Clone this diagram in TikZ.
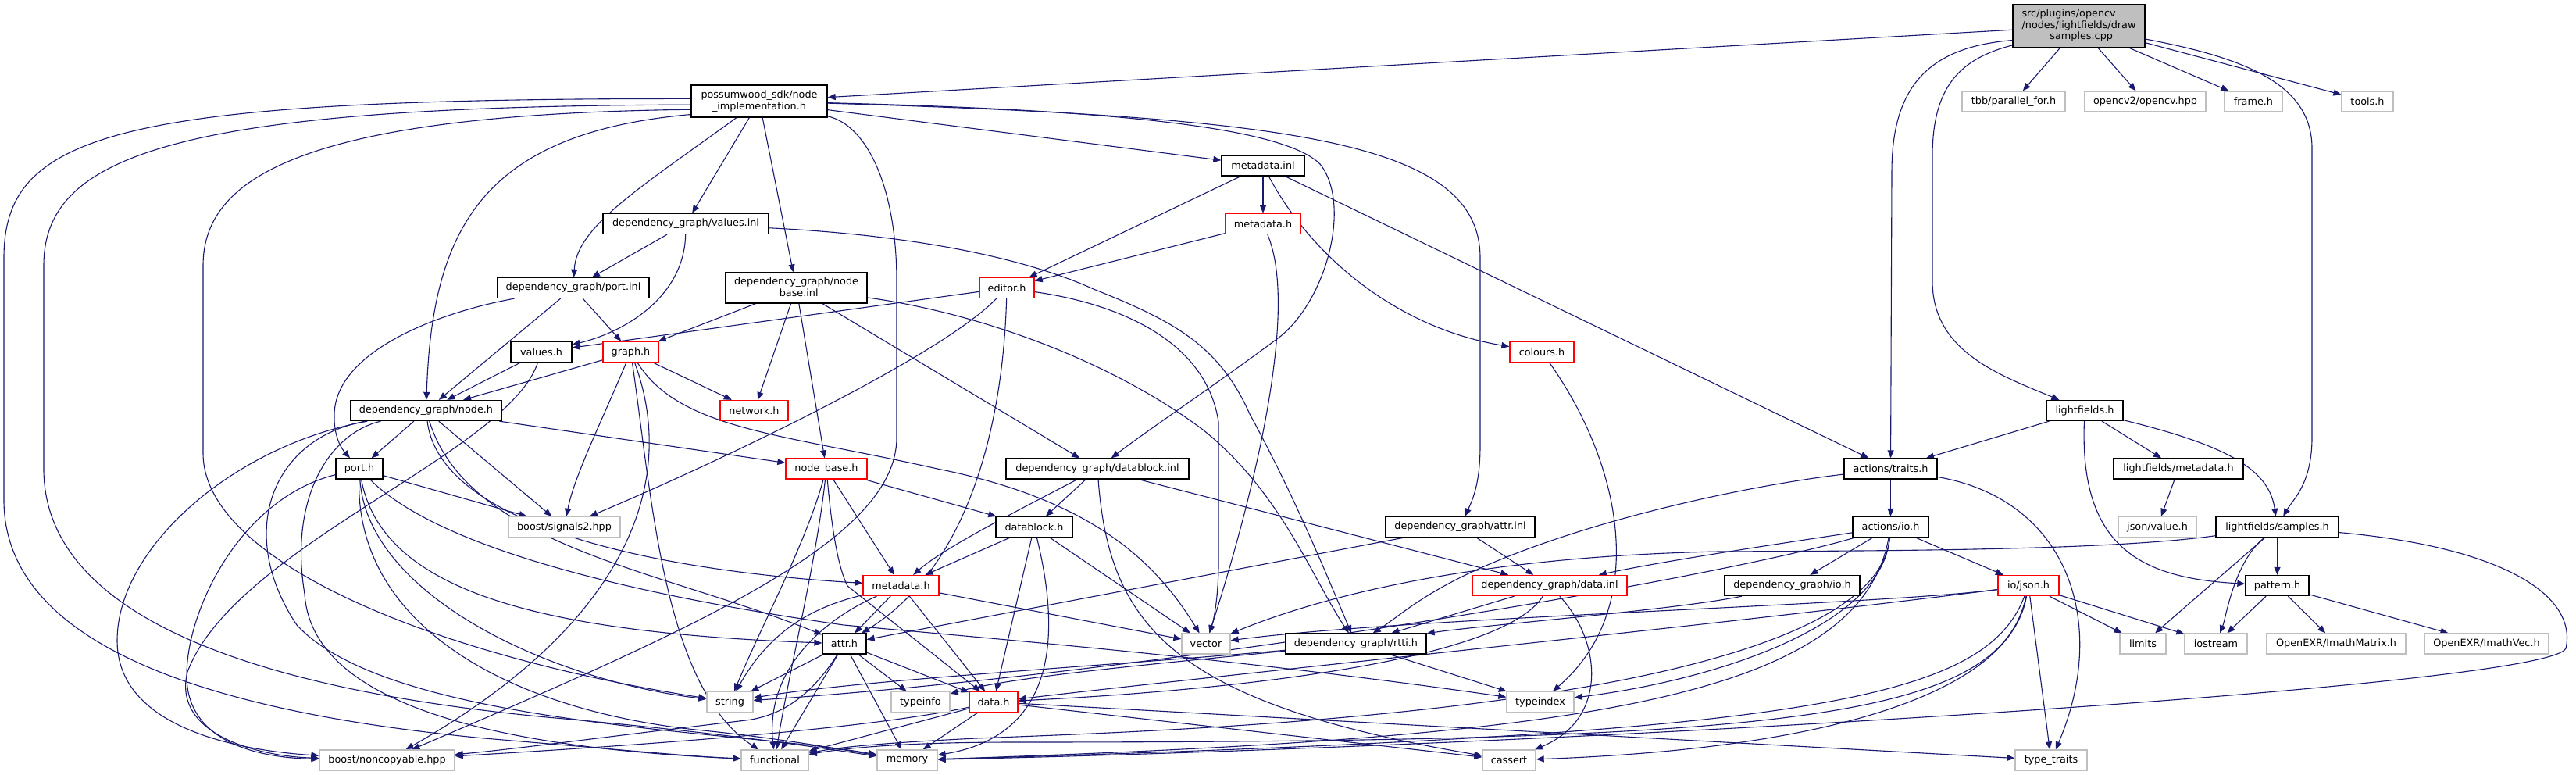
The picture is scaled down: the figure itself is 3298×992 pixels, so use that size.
\documentclass[tikz,border=0pt]{standalone}
\usepackage{fontspec}
\setmainfont{DejaVu Sans}
\usetikzlibrary{arrows.meta}
\definecolor{edgecol}{HTML}{191970}
\definecolor{grayb}{HTML}{BFBFBF}
\definecolor{rootfill}{HTML}{BFBFBF}
\pgfdeclarelayer{back}
\pgfdeclarelayer{edges}
\pgfsetlayers{back,edges,main}
\begin{document}
\begin{tikzpicture}[x=1pt,y=-1pt,
  font=\fontsize{12.8}{14.4}\selectfont,
  base/.style={inner sep=0pt, minimum height=26pt, fill=white, line width=1.3pt},
  blk/.style={base, draw=black},
  gry/.style={base, draw=grayb},
  rd/.style={base, draw=red},
  rootbox/.style={base, draw=black, fill=rootfill},
  arr/.style={draw=edgecol, line width=1.1pt, -{Triangle[length=10pt,width=8pt]}}]
\begin{pgfonlayer}{back}
\fill[white] (0,0) rectangle (3298,992);
\end{pgfonlayer}
\useasboundingbox (0,0) rectangle (3298,992);

% nodes
\node[rootbox, minimum width=169pt, minimum height=55pt] (root) at (2661.5,33.5)
  {\begin{tabular}{@{}l@{}}src/plugins/opencv\\/nodes/lightfields/draw\\\multicolumn{1}{@{}c@{}}{\_samples.cpp}\end{tabular}};
\node[blk, minimum width=174pt, minimum height=41pt, align=center] (nimpl) at (972,129.5) {possumwood\_sdk/node\\\_implementation.h};
\node[gry, minimum width=132pt] (tbb) at (2578,130) {tbb/parallel\_for.h};
\node[gry, minimum width=155pt] (ocv) at (2746.5,130) {opencv2/opencv.hpp};
\node[gry, minimum width=74pt] (frame) at (2885,130) {frame.h};
\node[gry, minimum width=66pt] (tools) at (3031,130) {tools.h};
\node[blk, minimum width=106pt] (mdinl) at (1617,212) {metadata.inl};
\node[blk, minimum width=212pt] (valinl) at (878,286.5) {dependency\_graph/values.inl};
\node[rd, minimum width=96pt] (mdhA) at (1617,286.5) {metadata.h};
\node[blk, minimum width=194pt] (portinl) at (734,368.5) {dependency\_graph/port.inl};
\node[blk, minimum width=181pt, minimum height=39pt, align=center] (nbinl) at (1019.5,368.5) {dependency\_graph/node\\\_base.inl};
\node[rd, minimum width=70pt] (editor) at (1289,368.5) {editor.h};
\node[blk, minimum width=78pt] (valh) at (693,450.5) {values.h};
\node[rd, minimum width=71pt] (graph) at (807.5,450.5) {graph.h};
\node[rd, minimum width=82pt] (colours) at (1974,450.5) {colours.h};
\node[blk, minimum width=193pt] (nodeh) at (545.5,525.5) {dependency\_graph/node.h};
\node[rd, minimum width=87pt] (network) at (965.5,525.5) {network.h};
\node[blk, minimum width=98pt] (lf) at (2669,525.5) {lightfields.h};
\node[blk, minimum width=60pt] (porth) at (460,600) {port.h};
\node[rd, minimum width=104pt] (nbh) at (1058,600) {node\_base.h};
\node[blk, minimum width=234pt] (dbinl) at (1405,600) {dependency\_graph/datablock.inl};
\node[blk, minimum width=119pt] (traits) at (2420.5,600) {actions/traits.h};
\node[blk, minimum width=166pt] (lfmd) at (2789,600) {lightfields/metadata.h};
\node[gry, minimum width=143pt] (sig) at (722.5,674.5) {boost/signals2.hpp};
\node[blk, minimum width=98pt] (dbh) at (1324,674.5) {datablock.h};
\node[blk, minimum width=191pt] (attrinl) at (1869.5,674.5) {dependency\_graph/attr.inl};
\node[blk, minimum width=97pt] (aio) at (2420.5,674.5) {actions/io.h};
\node[gry, minimum width=100pt] (jval) at (2762,674.5) {json/value.h};
\node[blk, minimum width=157pt] (samples) at (2915.5,674.5) {lightfields/samples.h};
\node[rd, minimum width=97pt] (mdhB) at (1153.5,749.5) {metadata.h};
\node[rd, minimum width=198pt] (datainl) at (1984,749.5) {dependency\_graph/data.inl};
\node[blk, minimum width=173pt] (depio) at (2294.5,749.5) {dependency\_graph/io.h};
\node[rd, minimum width=78pt] (json) at (2597,749.5) {io/json.h};
\node[blk, minimum width=81pt] (pattern) at (2915.5,749.5) {pattern.h};
\node[blk, minimum width=56pt] (atth) at (1081,824) {attr.h};
\node[gry, minimum width=62pt] (vector) at (1544,824) {vector};
\node[blk, minimum width=180pt] (rtti) at (1736,824) {dependency\_graph/rtti.h};
\node[gry, minimum width=59pt] (limits) at (2743.5,824) {limits};
\node[gry, minimum width=80pt] (iostream) at (2837,824) {iostream};
\node[gry, minimum width=178pt] (imat) at (2991,824) {OpenEXR/ImathMatrix.h};
\node[gry, minimum width=159pt] (ivec) at (3183.5,824) {OpenEXR/ImathVec.h};
\node[gry, minimum width=59pt] (string) at (934.5,898.5) {string};
\node[gry, minimum width=75pt] (typeinfo) at (1178.5,898.5) {typeinfo};
\node[rd, minimum width=62pt] (datah) at (1272,898.5) {data.h};
\node[gry, minimum width=86pt] (typeindex) at (1972,898.5) {typeindex};
\node[gry, minimum width=173pt] (noncopy) at (495.5,973) {boost/noncopyable.hpp};
\node[gry, minimum width=86pt] (functional) at (992,973) {functional};
\node[gry, minimum width=77pt] (memory) at (1161.5,973) {memory};
\node[gry, minimum width=68pt] (cassert) at (1932,973) {cassert};
\node[gry, minimum width=92pt] (typetraits) at (2626,973) {type\_traits};

\begin{pgfonlayer}{edges}
% root
\draw[arr] (root) -- (nimpl);
\draw[arr] (root) -- (tbb);
\draw[arr] (root) -- (ocv);
\draw[arr] (root) -- (frame);
\draw[arr] (root.-14) -- (tools);
\draw[arr] (root.192) .. controls (2470,60) and (2422,110) .. (2422,220) -- (traits);
\draw[arr] (root.196) .. controls (2510,75) and (2474,110) .. (2474,200) -- (2474,360) .. controls (2474,450) and (2560,480) .. (lf);
\draw[arr] (root.-11) .. controls (2880,75) and (2960,110) .. (2960,190) -- (2960,560) .. controls (2960,620) and (2935,640) .. (samples);
% node_implementation.h
\draw[arr] (nimpl.191) .. controls (620,170) and (553,290) .. (nodeh);
\draw[arr] (nimpl) .. controls (820,240) and (738,290) .. (portinl);
\draw[arr] (nimpl) -- (valinl);
\draw[arr] (nimpl) -- (nbinl);
\draw[arr] (nimpl) -- (mdinl);
\draw[arr] (nimpl) .. controls (1400,140) and (1640,160) .. (1690,210) .. controls (1730,260) and (1700,380) .. (1640,430) .. controls (1560,490) and (1470,550) .. (dbinl);
\draw[arr] (nimpl) .. controls (1650,150) and (1895,180) .. (1895,330) -- (1895,570) .. controls (1895,620) and (1885,640) .. (attrinl);
\draw[arr] (nimpl.178) .. controls (150,126) and (5,170) .. (5,330) -- (5,640) .. controls (5,820) and (250,910) .. (620,945) .. controls (800,960) and (880,968) .. (functional);
\draw[arr] (nimpl.183) .. controls (220,136) and (56,200) .. (56,340) -- (56,600) .. controls (56,780) and (300,880) .. (700,918) .. controls (950,940) and (1080,962) .. (memory);
\draw[arr] (nimpl.187) .. controls (380,146) and (260,230) .. (260,340) -- (260,580) .. controls (260,720) and (560,840) .. (string);
\draw[arr] (nimpl) .. controls (1110,160) and (1148,240) .. (1148,360) -- (1148,560) .. controls (1148,690) and (900,800) .. (noncopy);
% values.inl
\draw[arr] (valinl) -- (portinl);
\draw[arr] (valinl) .. controls (876,380) and (800,425) .. (valh);
\draw[arr] (valinl) .. controls (1150,300) and (1300,325) .. (1400,370) .. controls (1500,410) and (1560,440) .. (1600,530) .. controls (1660,640) and (1700,740) .. (rtti);
% port.inl
\draw[arr] (portinl) .. controls (560,400) and (430,450) .. (428,530) .. controls (427,560) and (438,575) .. (porth);
\draw[arr] (portinl) -- (nodeh);
\draw[arr] (portinl) -- (graph);
% node_base.inl
\draw[arr] (nbinl) -- (graph);
\draw[arr] (nbinl) -- (network);
\draw[arr] (nbinl) -- (nbh);
\draw[arr] (nbinl) -- (dbinl);
\draw[arr] (nbinl) .. controls (1250,400) and (1420,460) .. (1540,550) .. controls (1640,630) and (1680,740) .. (rtti);
% metadata.inl
\draw[arr] (mdinl) -- (editor);
\draw[arr] (mdinl) -- (mdhA);
\draw[arr] (mdinl) .. controls (1680,330) and (1790,420) .. (colours);
\draw[arr] (mdinl) -- (traits);
% metadata.h (upper)
\draw[arr] (mdhA) -- (editor);
\draw[arr] (mdhA) .. controls (1665,400) and (1600,650) .. (vector);
% editor.h
\draw[arr] (editor) -- (valh);
\draw[arr] (editor) .. controls (1200,460) and (900,600) .. (sig);
\draw[arr] (editor) .. controls (1285,520) and (1250,720) .. (atth);
\draw[arr] (editor) .. controls (1440,390) and (1545,440) .. (1560,540) -- (1560,720) .. controls (1560,760) and (1555,790) .. (vector);
% colours.h
\draw[arr] (colours) .. controls (2080,600) and (2110,780) .. (typeindex);
% values.h
\draw[arr] (valh) -- (nodeh);
\draw[arr] (valh) .. controls (650,580) and (300,700) .. (240,860) .. controls (220,940) and (330,968) .. (noncopy);
% graph.h
\draw[arr] (graph) -- (nodeh);
\draw[arr] (graph) -- (network);
\draw[arr] (graph) .. controls (770,540) and (735,610) .. (sig);
\draw[arr] (graph) .. controls (835,640) and (850,880) .. (functional);
\draw[arr] (graph) .. controls (870,620) and (800,800) .. (noncopy);
\draw[arr] (graph) .. controls (870,550) and (1000,555) .. (1200,600) .. controls (1400,640) and (1480,720) .. (vector);
% node.h
\draw[arr] (nodeh) -- (porth);
\draw[arr] (nodeh) -- (sig);
\draw[arr] (nodeh) -- (nbh);
\draw[arr] (nodeh) .. controls (560,650) and (760,725) .. (mdhB);
\draw[arr] (nodeh) .. controls (600,700) and (850,730) .. (atth);
\draw[arr] (nodeh) .. controls (300,570) and (150,700) .. (150,820) .. controls (150,930) and (300,960) .. (noncopy);
\draw[arr] (nodeh) .. controls (420,555) and (370,640) .. (390,760) .. controls (400,920) and (700,960) .. (functional);
\draw[arr] (nodeh) .. controls (350,560) and (300,680) .. (380,800) .. controls (500,930) and (950,935) .. (memory);
% port.h
\draw[arr] (porth) -- (sig);
\draw[arr] (porth) .. controls (490,760) and (700,810) .. (atth);
\draw[arr] (porth) .. controls (560,700) and (800,760) .. (1080,800) .. controls (1300,820) and (1600,845) .. (typeindex);
\draw[arr] (porth) .. controls (470,760) and (700,870) .. (string);
\draw[arr] (porth) .. controls (455,800) and (650,910) .. (900,935) .. controls (1000,945) and (1080,960) .. (memory);
\draw[arr] (porth) .. controls (300,640) and (230,800) .. (240,880) .. controls (250,950) and (330,970) .. (noncopy);
% node_base.h
\draw[arr] (nbh) -- (dbh);
\draw[arr] (nbh) -- (mdhB);
\draw[arr] (nbh) .. controls (1066,690) and (1075,730) .. (1085,750) -- (datah);
\draw[arr] (nbh) .. controls (1030,700) and (975,800) .. (string);
\draw[arr] (nbh) .. controls (1045,720) and (1010,860) .. (functional);
% datablock.inl
\draw[arr] (dbinl) -- (dbh);
\draw[arr] (dbinl) .. controls (1310,650) and (1210,700) .. (mdhB);
\draw[arr] (dbinl) -- (datainl);
\draw[arr] (dbinl) .. controls (1420,800) and (1500,900) .. (cassert);
% datablock.h
\draw[arr] (dbh) -- (mdhB);
\draw[arr] (dbh) -- (datah);
\draw[arr] (dbh) .. controls (1355,800) and (1360,940) .. (memory);
\draw[arr] (dbh) -- (vector);
% attr.inl
\draw[arr] (attrinl) -- (atth);
\draw[arr] (attrinl) -- (datainl);
% metadata.h (lower)
\draw[arr] (mdhB) -- (atth);
\draw[arr] (mdhB) -- (datah);
\draw[arr] (mdhB) -- (vector);
\draw[arr] (mdhB) .. controls (1050,775) and (990,800) .. (string);
\draw[arr] (mdhB) .. controls (1050,795) and (980,860) .. (functional);
% attr.h
\draw[arr] (atth) -- (string);
\draw[arr] (atth) -- (typeinfo);
\draw[arr] (atth) -- (datah);
\draw[arr] (atth) -- (memory);
\draw[arr] (atth) -- (functional);
\draw[arr] (atth) .. controls (1045,880) and (1010,915) .. (955,922) .. controls (800,940) and (650,960) .. (noncopy);
% data.h
\draw[arr] (datah) -- (memory);
\draw[arr] (datah) -- (functional);
\draw[arr] (datah) .. controls (1100,935) and (800,955) .. (noncopy);
\draw[arr] (datah) -- (cassert);
\draw[arr] (datah) -- (typetraits);
% data.inl
\draw[arr] (datainl) -- (rtti);
\draw[arr] (datainl) .. controls (1920,850) and (1550,885) .. (datah);
\draw[arr] (datainl) .. controls (2050,820) and (2060,920) .. (cassert);
% rtti.h
\draw[arr] (rtti) .. controls (1500,848) and (1300,865) .. (typeinfo);
\draw[arr] (rtti) -- (typeindex);
\draw[arr] (rtti) .. controls (1450,850) and (1100,870) .. (string);
% actions/traits.h
\draw[arr] (traits) -- (aio);
\draw[arr] (traits) .. controls (2250,620) and (2050,660) .. (1900,725) .. controls (1820,760) and (1790,790) .. (rtti);
\draw[arr] (traits) .. controls (2650,640) and (2700,800) .. (typetraits);
% lightfields.h
\draw[arr] (lf) -- (traits);
\draw[arr] (lf) -- (lfmd);
\draw[arr] (lf) .. controls (2850,570) and (2905,600) .. (samples);
\draw[arr] (lf) .. controls (2662,700) and (2740,740) .. (pattern);
\draw[arr] (lfmd) -- (jval);
% actions/io.h
\draw[arr] (aio) -- (depio);
\draw[arr] (aio) -- (json);
\draw[arr] (aio) .. controls (2250,700) and (2120,720) .. (datainl);
\draw[arr] (aio) .. controls (2410,800) and (2200,870) .. (typeindex);
\draw[arr] (aio) .. controls (2200,740) and (1500,860) .. (string);
\draw[arr] (aio) .. controls (2380,900) and (2000,945) .. (memory);
\draw[arr] (aio) .. controls (2400,910) and (1500,935) .. (1250,945) .. controls (1150,950) and (1080,955) .. (functional);
% io/json.h
\draw[arr] (json) .. controls (2400,775) and (1800,790) .. (vector);
\draw[arr] (json) .. controls (2200,800) and (1600,860) .. (datah);
\draw[arr] (json) .. controls (2540,900) and (2300,940) .. (memory);
\draw[arr] (json) .. controls (2560,920) and (2300,950) .. (1300,950) .. controls (1150,950) and (1080,958) .. (functional);
\draw[arr] (json) .. controls (2570,900) and (2300,960) .. (cassert);
\draw[arr] (json) -- (typetraits);
\draw[arr] (json) -- (limits);
\draw[arr] (json) -- (iostream);
% lightfields/samples.h
\draw[arr] (samples) .. controls (2700,705) and (2400,705) .. (2200,706) .. controls (1900,712) and (1700,760) .. (vector);
\draw[arr] (samples) -- (limits);
\draw[arr] (samples) .. controls (2860,720) and (2850,790) .. (iostream);
\draw[arr] (samples) -- (pattern);
\draw[arr] (samples) .. controls (3200,700) and (3300,760) .. (3285,830) .. controls (3260,880) and (2000,955) .. (memory);
% pattern.h
\draw[arr] (pattern) -- (iostream);
\draw[arr] (pattern) -- (imat);
\draw[arr] (pattern) -- (ivec);
% dependency_graph/io.h
\draw[arr] (depio) .. controls (2150,780) and (1900,800) .. (rtti);
\end{pgfonlayer}
\end{tikzpicture}
\end{document}
